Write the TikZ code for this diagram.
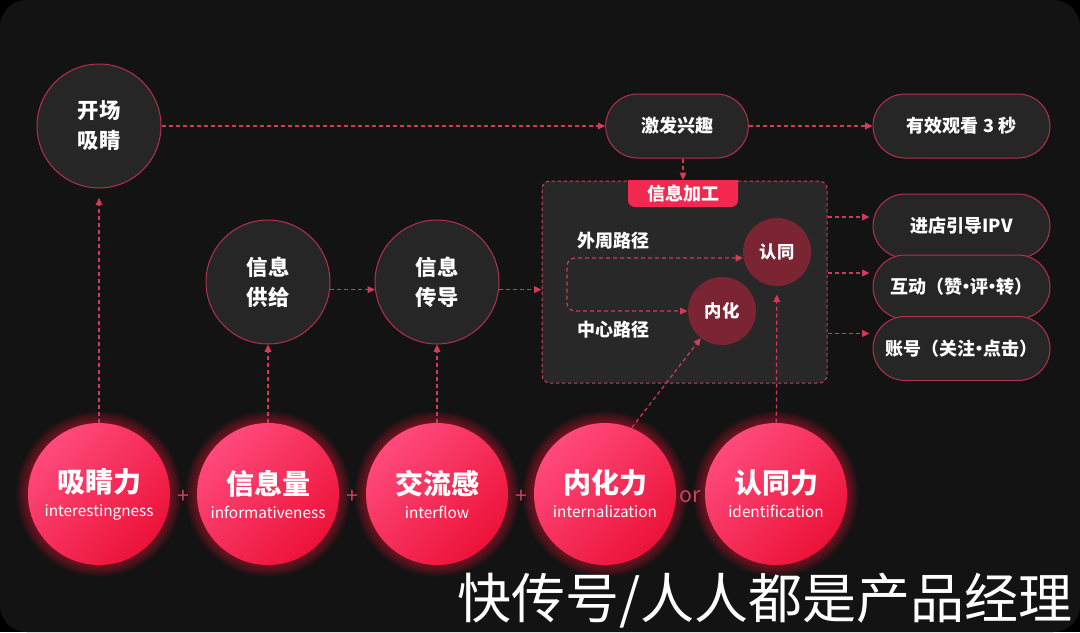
\documentclass[tikz,border=0pt]{standalone}
\usepackage{fontspec}
\setmainfont{Noto Sans CJK SC}
\usetikzlibrary{arrows.meta,calc}

\definecolor{bgc}{HTML}{131313}
\definecolor{nodefill}{HTML}{262626}
\definecolor{boxfill}{HTML}{282828}
\definecolor{nodeline}{HTML}{B5304A}
\definecolor{flowc}{HTML}{D43A58}
\definecolor{innerc}{HTML}{7B2434}
\definecolor{tabc}{HTML}{F2284F}
\definecolor{pinkA}{HTML}{FF4A7C}
\definecolor{pinkB}{HTML}{EC1238}
\definecolor{plusc}{HTML}{D2405F}

\newcommand{\pkbig}{\bfseries\fontsize{21}{23}\selectfont}
\newcommand{\pksmall}{\mdseries\fontsize{11.5}{18}\selectfont}
\newcommand{\mdot}{\makebox[0.42em][c]{·}}

\tikzset{every picture/.style={line width=0.75pt}}
\tikzset{
  darkcirc/.style={circle, draw=nodeline, fill=nodefill, inner sep=0pt, minimum size=93pt,
    text=white, align=center, font=\bfseries\fontsize{16}{22.5}\selectfont},
  stadium/.style={rectangle, rounded corners=24pt, draw=nodeline, fill=nodefill, inner sep=0pt,
    minimum height=48pt, text=white, font=\bfseries\fontsize{13.5}{16}\selectfont},
  procbox/.style={rectangle, rounded corners=6pt, draw=flowc, dash pattern=on 2.5pt off 2pt,
    fill=boxfill, minimum width=213.75pt, minimum height=151.5pt},
  tabtext/.style={text=white, inner sep=0pt, minimum width=82.5pt, minimum height=19.5pt,
    font=\bfseries\fontsize{13.5}{16}\selectfont},
  innercirc/.style={circle, fill=innerc, inner sep=0pt, minimum size=51pt, text=white,
    font=\bfseries\fontsize{13}{15}\selectfont},
  pathtext/.style={text=white, font=\bfseries\fontsize{13.5}{16}\selectfont},
  pinkcirc/.style={circle, inner sep=0pt, minimum size=106.5pt, top color=pinkA,
    bottom color=pinkB, shading angle=45, text=white, align=center,
    font=\fontsize{11.5}{18}\selectfont},
  glowring/.style={fill=pinkB, fill opacity=0.06},
  plustext/.style={text=plusc, font=\fontsize{16}{16}\selectfont},
  wmtext/.style={text=white, inner sep=0pt, font=\fontsize{40.5}{44}\selectfont},
  flow/.style={draw=flowc, line width=0.9pt, dash pattern=on 3pt off 2.25pt,
    >={Triangle[length=5.5pt,width=5pt]}}
}

\begin{document}
\begin{tikzpicture}[x=0.75pt,y=0.75pt,yscale=-1,xscale=1]
	\useasboundingbox (0,0) rectangle (1080,632);
	%Shape: Rectangle (background)
	\fill [black] (0,0) rectangle (1080,632);
	\fill [bgc, rounded corners=20pt] (0,0) rectangle (1080,632);

	%Shape: Circle
	\node [darkcirc] (kcxj) at (99,126) {开场\\吸睛};
	%Shape: Rounded Rect
	\node [stadium, minimum width=107pt] (jfxq) at (677,126) {激发兴趣};
	\node [stadium, minimum width=132.75pt] (yxgk) at (961.5,126) {有效观看 3 秒};
	%Shape: Circle
	\node [darkcirc] (xxgj) at (268,282) {信息\\供给};
	\node [darkcirc] (xxcd) at (437,282) {信息\\传导};

	%Shape: Rectangle (信息加工)
	\node [procbox] (xxjg) at (684.5,282) {};
	\fill [tabc] (628,180) {[rounded corners=5pt] -- (628,207) -- (738,207)} -- (738,180) -- cycle;
	\node [tabtext] (tab) at (683,193.5) {信息加工};
	\node [innercirc] (rt) at (777,252) {认同};
	\node [innercirc] (nh) at (722,311) {内化};
	% Text Node
	\node [pathtext] (wzlj) at (613,241) {外周路径};
	% Text Node
	\node [pathtext] (zxlj) at (613,330) {中心路径};
	\coordinate (zhd) at (567,284);
	\draw [flow, <->, rounded corners=6pt] (rt.190) -| (zhd) |- (nh.west);

	%Shape: Rounded Rect
	\node [stadium, minimum width=132.75pt] (jdyd) at (961.5,226) {进店引导IPV};
	\node [stadium, minimum width=132.75pt] (hdzp) at (961.5,287) {互动（赞\mdot 评\mdot 转）};
	\node [stadium, minimum width=132.75pt] (zhgz) at (961.5,348.5) {账号（关注\mdot 点击）};

	%Shape: Circle (glow)
	\foreach \cx in {99,268,437,605,776}
		\foreach \gr in {54,55,...,62}
			\fill [glowring] (\cx,494) circle [radius=\gr pt];
	\node [pinkcirc] (xjl) at (99,494) {{\pkbig 吸睛力}\\{\pksmall interestingness}};
	\node [pinkcirc] (xxl) at (268,494) {{\pkbig 信息量}\\{\pksmall informativeness}};
	\node [pinkcirc] (jlg) at (437,494) {{\pkbig 交流感}\\{\pksmall interflow}};
	\node [pinkcirc] (nhl) at (605,494) {{\pkbig 内化力}\\{\pksmall internalization}};
	\node [pinkcirc] (rtl) at (776,494) {{\pkbig 认同力}\\{\pksmall identification}};
	% Text Node
	\node [plustext] (plusA) at (183,497) {+};
	\node [plustext] (plusB) at (352.5,497) {+};
	\node [plustext] (plusC) at (521,497) {+};
	\node [plustext] (orD) at (690,497) {or};

	%Straight Lines
	\draw [flow, ->] (kcxj) -- (jfxq);
	\draw [flow, ->] (jfxq) -- (yxgk);
	\draw [flow, ->] (tab.north |- jfxq.south) -- (tab.north);
	\draw [flow, ->] (xxgj.353) -- (xxcd.187);
	\draw [flow, ->] (xxcd.353) -- (xxcd.353 -| xxjg.west);
	\coordinate (jdin) at ($(jdyd.west)+(-3,-9)$);
	\coordinate (hdin) at ($(hdzp.west)+(-3,-14)$);
	\coordinate (zhin) at ($(zhgz.west)+(-3,-15)$);
	\draw [flow, ->] (xxjg.east |- jdin) -- (jdin);
	\draw [flow, ->] (xxjg.east |- hdin) -- (hdin);
	\draw [flow, ->] (xxjg.east |- zhin) -- (zhin);
	\draw [flow, ->, shorten >=7pt] (xjl) -- (kcxj);
	\draw [flow, ->] (xxl) -- (xxgj);
	\draw [flow, ->] (jlg) -- (xxcd);
	\draw [flow, ->] (nhl.68) -- (nh.232);
	\draw [flow, ->, shorten >=6pt] (rtl) -- (rt);

	% Text Node
	\node [wmtext] (wm) at (765,601) {快传号/人人都是产品经理};
\end{tikzpicture}
\end{document}
